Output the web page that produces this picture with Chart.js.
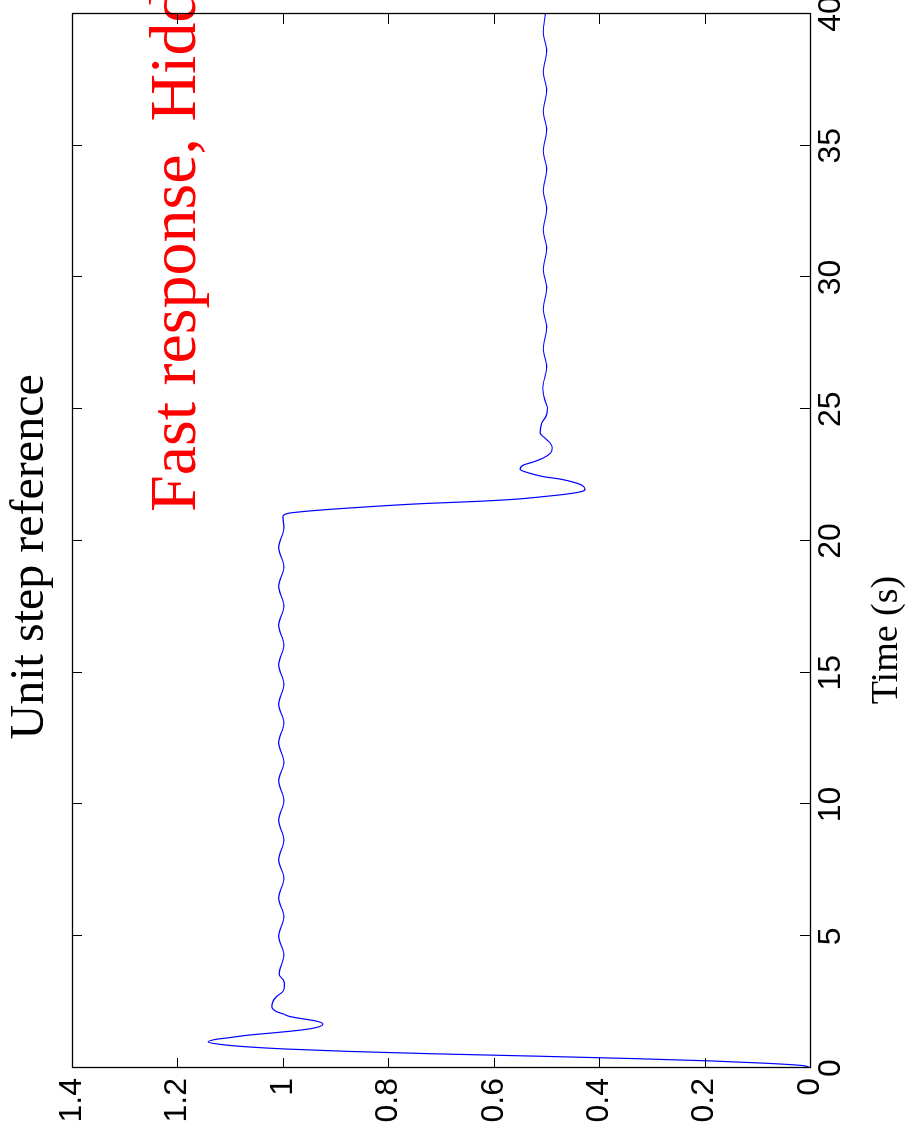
<!DOCTYPE html>
<html>
<head>
<meta charset="utf-8">
<script src="https://cdn.jsdelivr.net/npm/chart.js@4.4.1/dist/chart.umd.min.js"></script>
<style>
  html, body { margin: 0; padding: 0; background: #fff; overflow: hidden; }
  #page { position: relative; width: 915px; height: 1139px; overflow: hidden; background: #fff; }
  /* the figure is laid out landscape and turned a quarter turn counter-clockwise */
  #turn { position: absolute; left: 0; top: 0; width: 1139px; height: 915px;
          transform-origin: 0 0; transform: translate(0, 1139px) rotate(-90deg); }
  canvas { display: block; }
</style>
</head>
<body>
<div id="page"><div id="turn"><canvas id="c" width="1139" height="915"></canvas></div></div>
<script>
// axis ticks
const timeTicks  = [0, 5, 10, 15, 20, 25, 30, 35, 40];
const valueTicks = [0, 0.2, 0.4, 0.6, 0.8, 1, 1.2, 1.4];

// texts
const titleText = 'Unit step reference';
const xTitleText = 'Time (s)';
const noteText = 'Fast response, Hidden';

// step response: time (s) and output
const timeS = [
  0, 0.09, 0.18, 0.27, 0.36, 0.45, 0.54, 0.63, 0.72, 0.81, 0.90, 0.99,
  1.09, 1.15, 1.25, 1.34, 1.44, 1.53, 1.67, 1.79, 1.86, 1.95, 2.05, 2.14, 2.33, 2.52, 2.71, 2.9, 3.1, 3.3,
  3.55, 4.29, 5.0, 5.74, 6.45, 7.2, 7.9, 8.65, 9.4, 10.15, 10.9, 11.6, 12.35, 13.1, 13.8, 14.56,
  15.3, 16.05, 16.8, 17.53, 18.28, 19.02, 19.75, 20.5, 20.92,
  21.05, 21.13, 21.22, 21.32, 21.42, 21.5, 21.59, 21.69, 21.78, 21.88, 21.96,
  22.12, 22.25, 22.35, 22.44, 22.58, 22.72, 22.88, 23.0, 23.15, 23.34, 23.53, 23.72, 23.91,
  24.1, 24.48, 24.72, 25.05, 25.35, 25.8,
  26.6, 27.3, 28.1, 28.8, 29.6, 30.3, 31.1, 31.8, 32.6, 33.3, 34.1, 34.8, 35.6, 36.3, 37.1, 37.8, 38.6, 39.3, 40
];
const response = [
  0, 0.013, 0.083, 0.19, 0.34, 0.52, 0.715, 0.876, 0.993, 1.072, 1.12, 1.142,
  1.126, 1.102, 1.064, 1.015, 0.966, 0.938, 0.924, 0.939, 0.960, 0.986, 0.999, 1.012, 1.021, 1.019, 1.012, 1.0, 0.997, 0.998,
  1.007, 0.998, 1.008, 0.998, 1.008, 0.998, 1.008, 0.998, 1.008, 0.998, 1.008, 0.998, 1.008, 0.998, 1.008, 0.998,
  1.008, 0.998, 1.008, 0.998, 1.008, 0.998, 1.008, 0.998, 1.0,
  0.99, 0.955, 0.898, 0.822, 0.734, 0.636, 0.556, 0.503, 0.462, 0.433, 0.427,
  0.433, 0.452, 0.474, 0.505, 0.533, 0.55, 0.544, 0.525, 0.506, 0.492, 0.489, 0.493, 0.503,
  0.512, 0.509, 0.501, 0.498, 0.503, 0.507,
  0.4995, 0.506, 0.4995, 0.506, 0.4995, 0.506, 0.4995, 0.506, 0.4995, 0.506, 0.4995, 0.506, 0.4995, 0.506, 0.4995, 0.506, 0.4995, 0.506, 0.502
];

const TICK_LEN = 10;

// box around the axes with inward ticks on all four sides
const framePlugin = {
  id: 'frame',
  afterDraw(chart) {
    const { ctx, chartArea: a, scales: { x, y } } = chart;
    ctx.save();
    ctx.strokeStyle = '#000';
    ctx.lineWidth = 1;
    ctx.beginPath();
    x.ticks.forEach(t => {
      const px = Math.round(x.getPixelForValue(t.value)) + 0.5;
      if (px <= a.left + 1 || px >= a.right - 1) return;
      ctx.moveTo(px, a.bottom); ctx.lineTo(px, a.bottom - TICK_LEN);
      ctx.moveTo(px, a.top); ctx.lineTo(px, a.top + TICK_LEN);
    });
    y.ticks.forEach(t => {
      const py = Math.round(y.getPixelForValue(t.value)) + 0.5;
      if (py <= a.top + 1 || py >= a.bottom - 1) return;
      ctx.moveTo(a.left, py); ctx.lineTo(a.left + TICK_LEN, py);
      ctx.moveTo(a.right, py); ctx.lineTo(a.right - TICK_LEN, py);
    });
    ctx.stroke();
    ctx.lineWidth = 1.3;
    ctx.strokeRect(Math.round(a.left) + 0.5, Math.round(a.top) + 0.5,
                   Math.round(a.right - a.left), Math.round(a.bottom - a.top));
    ctx.restore();
  }
};

// title, axis label and the red annotation
const textPlugin = {
  id: 'texts',
  afterDatasetsDraw(chart) {
    const { ctx, chartArea: a, scales: { x, y } } = chart;
    ctx.save();
    ctx.textBaseline = 'alphabetic';
    ctx.fillStyle = '#000';
    ctx.textAlign = 'center';
    ctx.font = '48px "Liberation Serif"';
    ctx.fillText(titleText, a.left + 0.485 * a.width, a.top - 29);
    ctx.font = '38px "Liberation Serif"';
    ctx.fillText(xTitleText, a.left + 0.406 * a.width, a.bottom + 87);
    ctx.fillStyle = '#ff0000';
    ctx.textAlign = 'left';
    ctx.font = '66px "Liberation Serif"';
    ctx.fillText(noteText, x.getPixelForValue(21.1), y.getPixelForValue(1.167));
    ctx.restore();
  }
};

const tickFont = { family: 'Liberation Sans', size: 32 };

new Chart(document.getElementById('c'), {
  type: 'line',
  data: {
    datasets: [{
      data: timeS.map((t, i) => ({ x: t, y: response[i] })),
      borderColor: '#0000ff',
      borderWidth: 1.2,
      pointRadius: 0,
      fill: false,
      cubicInterpolationMode: 'monotone'
    }]
  },
  options: {
    responsive: false,
    animation: false,
    devicePixelRatio: 1,
    layout: { padding: { left: 0, right: 14, top: 72, bottom: 0 } },
    plugins: { legend: { display: false }, tooltip: { enabled: false }, title: { display: false } },
    scales: {
      x: {
        type: 'linear', min: 0, max: 40, position: 'bottom',
        afterBuildTicks: s => { s.ticks = timeTicks.map(v => ({ value: v })); },
        afterFit: s => { s.height = 105; s.paddingLeft = 0; s.paddingRight = 0; },
        ticks: { font: tickFont, color: '#000', padding: 2, maxRotation: 0, autoSkip: false,
                 callback: v => String(v) },
        grid: { display: false, drawTicks: false },
        border: { display: false }
      },
      y: {
        type: 'linear', min: 0, max: 1.4,
        afterBuildTicks: s => { s.ticks = valueTicks.map(v => ({ value: v })); },
        afterFit: s => { s.width = 71; s.paddingTop = 0; s.paddingBottom = 0; },
        ticks: { font: tickFont, color: '#000', padding: 10, autoSkip: false,
                 callback: v => String(v) },
        grid: { display: false, drawTicks: false },
        border: { display: false }
      }
    }
  },
  plugins: [textPlugin, framePlugin]
});
</script>
</body>
</html>
